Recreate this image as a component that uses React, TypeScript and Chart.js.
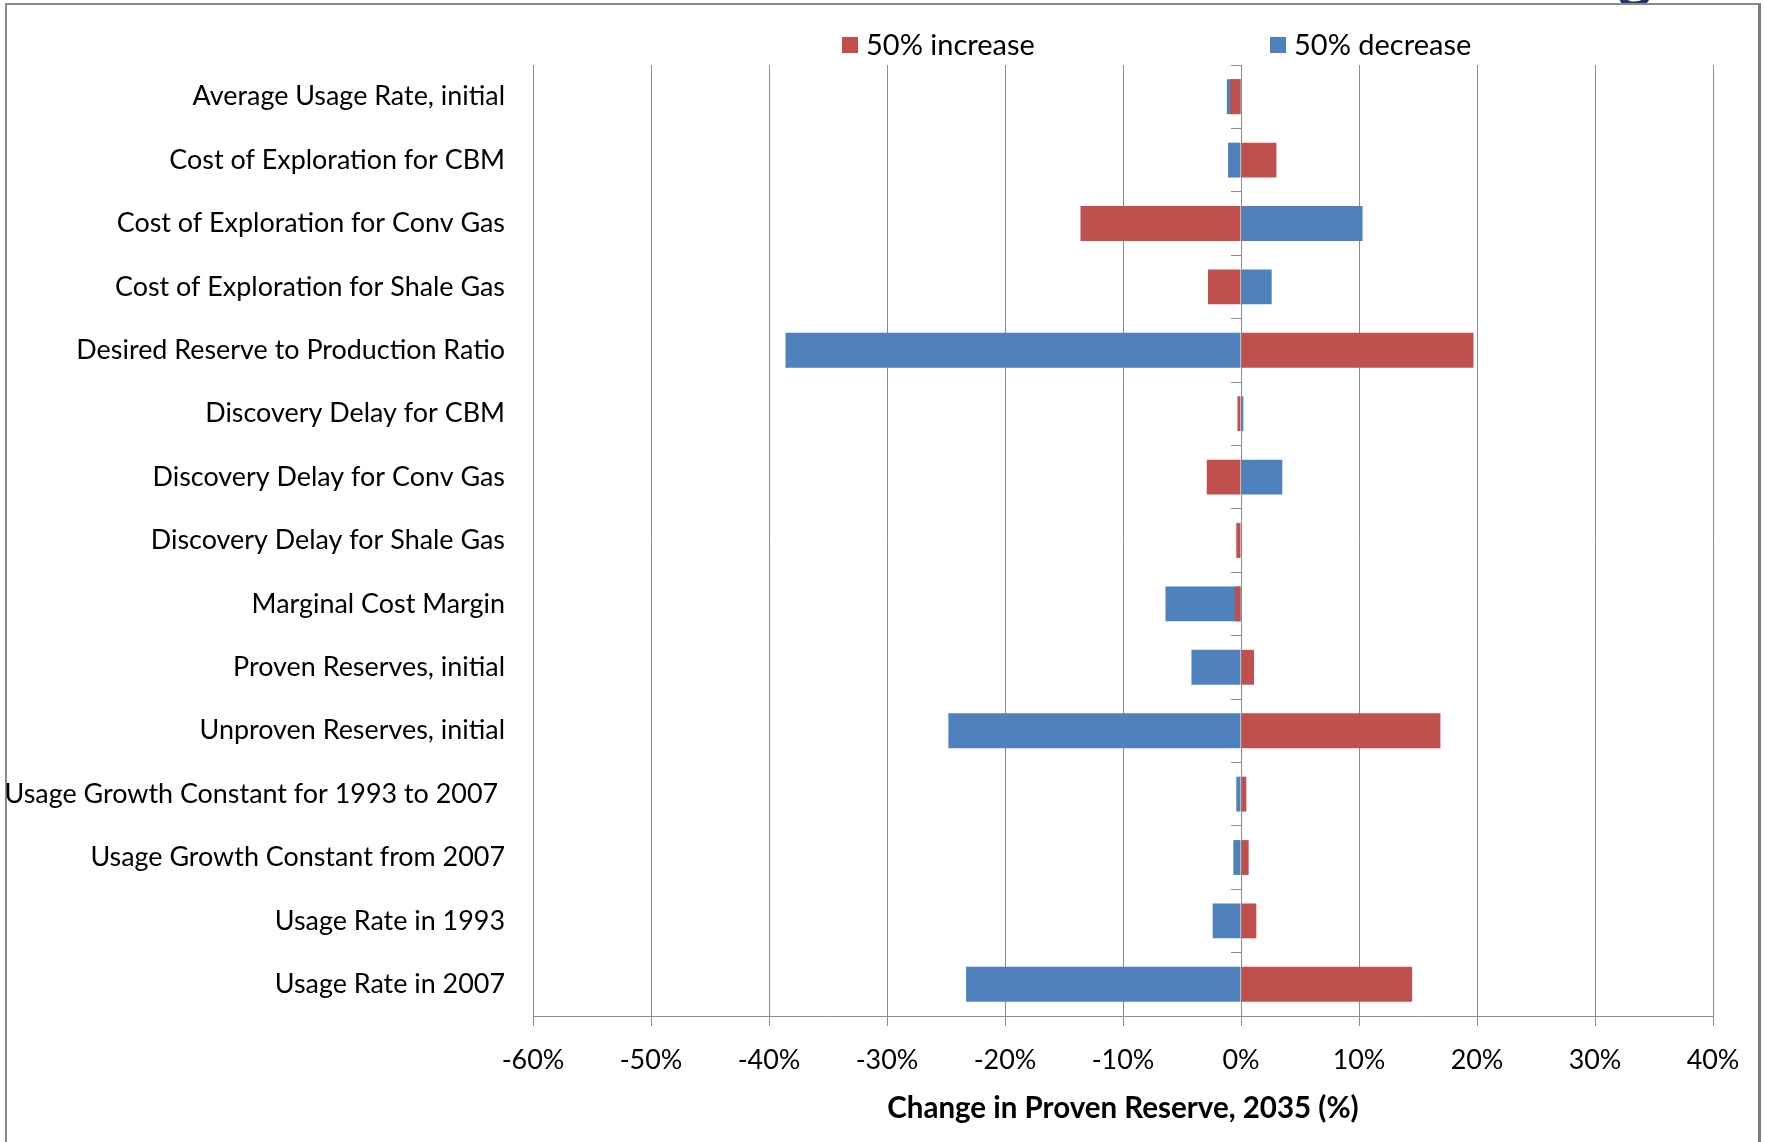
import React, { useEffect, useRef } from "react";
import { Chart, registerables } from "chart.js";

Chart.register(...registerables);

const categories = [
  "Average Usage Rate, initial",
  "Cost of Exploration for CBM",
  "Cost of Exploration for Conv Gas",
  "Cost of Exploration for Shale Gas",
  "Desired Reserve to Production Ratio",
  "Discovery Delay for CBM",
  "Discovery Delay for Conv Gas",
  "Discovery Delay for Shale Gas",
  "Marginal Cost Margin",
  "Proven Reserves, initial",
  "Unproven Reserves, initial",
  "Usage Growth Constant for 1993 to 2007 ",
  "Usage Growth Constant from 2007",
  "Usage Rate in 1993",
  "Usage Rate in 2007",
];

// Change in proven reserve, 2035 (%)
const increaseValues = [-0.9, 3.0, -13.6, -2.8, 19.7, -0.3, -2.9, -0.4, -0.5, 1.1, 16.9, 0.45, 0.65, 1.3, 14.5];
const decreaseValues = [-1.2, -1.1, 10.3, 2.6, -38.6, 0.2, 3.5, 0, -6.4, -4.2, -24.8, -0.4, -0.65, -2.4, -23.3];

const xTickValues = [-60, -50, -40, -30, -20, -10, 0, 10, 20, 30, 40];
const seriesNames = ["50% increase", "50% decrease"];
const axisTitle = "Change in Proven Reserve, 2035 (%)";

const RED = "#C0504D";
const BLUE = "#4F81BD";
const GRID = "#8c8c8c";
const FONT = "Lato, 'Liberation Sans', sans-serif";
const FS = 26.9;
const LEGEND_FS = 29;
const TITLE_FS = 29.5;

const W = 1765;
const H = 1142;

const legendPlugin = {
  id: "excelLegend",
  afterDraw(chart: any) {
    const ctx = chart.ctx;
    const xs = [842, 1270];
    const y = 45;
    ctx.save();
    ctx.font = `${LEGEND_FS}px ${FONT}`;
    ctx.textBaseline = "middle";
    ctx.textAlign = "left";
    chart.data.datasets.forEach((ds: any, i: number) => {
      ctx.fillStyle = ds.backgroundColor;
      ctx.fillRect(xs[i], y - 8, 16, 16);
      ctx.fillStyle = "#000";
      ctx.fillText(ds.label, xs[i] + 24, y + 1);
    });
    ctx.restore();
  },
};

function TornadoChart() {
  const ref = useRef<HTMLCanvasElement | null>(null);
  useEffect(() => {
    if (!ref.current) return;
    const chart = new Chart(ref.current, {
      type: "bar",
      data: {
        labels: categories,
        datasets: [
          {
            label: seriesNames[0],
            data: increaseValues,
            backgroundColor: RED,
            borderWidth: 0,
            xAxisID: "x",
            yAxisID: "y",
          },
          {
            label: seriesNames[1],
            data: decreaseValues,
            backgroundColor: BLUE,
            borderWidth: 0,
            xAxisID: "x",
            yAxisID: "y",
          },
        ],
      },
      options: {
        indexAxis: "y",
        responsive: false,
        animation: false,
        devicePixelRatio: 1,
        layout: { padding: { left: 0, right: 52, top: 65, bottom: 0 } },
        datasets: {
          bar: { grouped: false, barPercentage: 0.55, categoryPercentage: 1.0 },
        },
        plugins: {
          legend: { display: false },
          tooltip: { enabled: false },
        },
        scales: {
          x: {
            type: "linear",
            position: "bottom",
            min: -60,
            max: 40,
            afterBuildTicks: (s: any) => {
              s.ticks = xTickValues.map((v) => ({ value: v }));
            },
            afterFit: (s: any) => {
              s.height = H - 1016;
            },
            ticks: {
              callback: (v: any) => `${v}%`,
              font: { family: FONT, size: FS },
              color: "#000",
              padding: 18,
              maxRotation: 0,
            },
            grid: {
              color: GRID,
              lineWidth: 1,
              drawTicks: true,
              tickLength: 10,
              tickColor: GRID,
            },
            border: { display: true, color: GRID, width: 1 },
            title: {
              display: true,
              text: axisTitle,
              color: "#000",
              font: { family: FONT, size: TITLE_FS, weight: "bold" },
              padding: { top: 0, bottom: 16 },
            },
          },
          y: {
            type: "category",
            position: "left",
            offset: true,
            afterFit: (s: any) => {
              s.width = 533;
            },
            grid: { display: false, drawTicks: false },
            border: { display: false },
            ticks: {
              autoSkip: false,
              font: { family: FONT, size: FS },
              color: "#000",
              padding: 28,
            },
          },
          y0: {
            axis: "y",
            type: "category",
            position: { x: 0 },
            offset: true,
            grid: {
              offset: true,
              drawOnChartArea: false,
              drawTicks: true,
              tickLength: 10,
              color: GRID,
              tickColor: GRID,
            },
            border: { display: true, color: GRID, width: 1 },
            ticks: { display: false },
          },
        },
      } as any,
      plugins: [legendPlugin],
    });
    return () => chart.destroy();
  }, []);
  return (
    <canvas
      ref={ref}
      width={W}
      height={H}
      style={{ position: "absolute", left: 0, top: 0, width: W, height: H }}
    />
  );
}

export default function App() {
  return (
    <div
      style={{
        position: "absolute",
        left: 0,
        top: 0,
        width: W,
        height: H,
        overflow: "hidden",
        background: "#fff",
      }}
    >
      <div
        style={{
          position: "absolute",
          left: 1618,
          top: 0,
          width: 44,
          height: 4,
          overflow: "hidden",
        }}
      >
        <span
          style={{
            position: "absolute",
            left: 0,
            bottom: 0,
            fontFamily: FONT,
            fontWeight: "bold",
            fontSize: 64,
            lineHeight: 1,
            color: "#1F3864",
          }}
        >
          g
        </span>
      </div>
      <div
        style={{
          position: "absolute",
          left: 5,
          top: 3,
          width: 1751,
          height: 1160,
          borderTop: "2px solid #8a8a8a",
          borderLeft: "2px solid #8a8a8a",
          borderRight: "3px solid #7a7a7a",
        }}
      />
      <TornadoChart />
    </div>
  );
}
